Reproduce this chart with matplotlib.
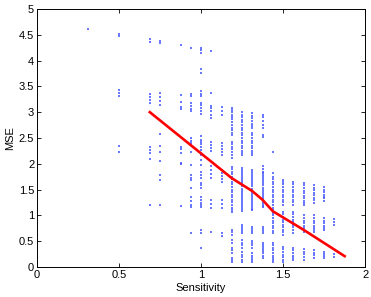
import numpy as np
import matplotlib
matplotlib.use("Agg")
import matplotlib.pyplot as plt

plt.rcParams['font.family'] = ['Liberation Sans', 'DejaVu Sans']

# sensitivity levels (columns of the scatter)
sens_levels = [0.3125, 0.5, 0.6875, 0.75, 0.875, 0.9375, 1.0, 1.0625, 1.125,
               1.1875, 1.25, 1.3125, 1.375, 1.4375, 1.5, 1.5625, 1.625,
               1.6875, 1.75, 1.8125]

# MSE values
mse_0312 = [4.61]
mse_0500 = [4.52, 4.48, 3.42, 3.37, 3.31, 2.35, 2.23]
mse_0688 = [4.41, 4.36, 3.35, 3.29, 3.23, 3.17, 2.33, 2.27, 2.2, 2.09, 1.2]
mse_0750 = [4.37, 4.34, 3.37, 3.3, 3.22, 3.14, 2.57, 2.35, 2.23, 2.05, 1.78,
            1.69, 1.2]
mse_0875 = [4.3, 3.33, 3.2, 3.1, 3.06, 2.32, 2.28, 2.2, 2.02, 1.99, 1.18]
mse_0938 = [4.25, 3.35, 3.31, 3.18, 3.12, 3.07, 3.02, 2.5, 2.45, 2.4, 2.37,
            2.23, 1.98, 1.78, 1.73, 1.68, 1.54, 1.36, 1.27, 1.2, 1.17, 0.65]
mse_1000 = [4.24, 4.2, 4.15, 3.83, 3.75, 3.41, 3.36, 3.31, 3.18, 3.13, 3.08,
            3.03, 2.97, 2.53, 2.47, 2.42, 2.38, 2.33, 2.27, 2.17, 2.07, 1.98,
            1.85, 1.78, 1.72, 1.63, 1.58, 1.53, 1.36, 1.3, 1.24, 1.2, 1.17,
            0.72, 0.66, 0.36]
mse_1062 = [4.19, 3.37, 3.12, 3.08, 3.02, 2.95, 2.89, 2.43, 2.36, 2.3, 2.25,
            1.95, 1.88, 1.8, 1.72, 1.3, 1.22, 1.15, 0.68]
mse_1125 = [3.1, 3.02, 2.95, 2.4, 2.34, 2.28, 2.22, 2.17, 1.88, 1.82, 1.76,
            1.7, 1.65, 1.3, 1.22, 1.14, 0.66, 0.6]
mse_1188 = [3.08, 3.04, 3.0, 2.95, 2.9, 2.86, 2.8, 2.75, 2.7, 2.65, 2.6, 2.56,
            2.43, 2.38, 2.33, 2.28, 2.22, 2.17, 2.11,
            1.94, 1.9, 1.85, 1.8, 1.75, 1.7, 1.65, 1.6, 1.55, 1.5, 1.45, 1.4,
            1.35, 1.3, 1.25, 1.2, 1.15, 1.1, 1.07,
            0.72, 0.67, 0.62, 0.52, 0.47, 0.37, 0.32, 0.27, 0.17, 0.13, 0.1]
mse_1250 = [3.0, 2.95, 2.9, 2.85, 2.8, 2.75, 2.7, 2.65, 2.6, 2.55, 2.5, 2.45,
            2.4, 2.35, 2.3, 2.25, 2.2, 2.17,
            1.92, 1.88, 1.84, 1.8, 1.76, 1.72, 1.68, 1.64, 1.6, 1.56, 1.52,
            1.48, 1.44, 1.4, 1.36, 1.32, 1.28, 1.24, 1.2, 1.16, 1.12, 1.08,
            0.81, 0.77, 0.73, 0.69, 0.66, 0.52, 0.47, 0.42, 0.37,
            0.29, 0.24, 0.19, 0.14, 0.1]
mse_1312 = [2.98, 2.93, 2.88, 2.83, 2.78, 2.73, 2.69, 2.6, 2.55, 2.5, 2.45,
            2.4, 2.35, 2.3, 2.25, 2.2, 2.17,
            1.88, 1.84, 1.8, 1.76, 1.72, 1.68, 1.64, 1.6, 1.56, 1.52, 1.48,
            1.44, 1.4, 1.36, 1.32, 1.28, 1.24, 1.2, 1.16, 1.12, 1.1,
            0.78, 0.74, 0.7, 0.66, 0.5, 0.46, 0.42, 0.37,
            0.27, 0.22, 0.17, 0.13, 0.1]
mse_1375 = [2.95, 2.9, 2.83, 2.76, 2.69, 2.56, 2.52,
            1.95, 1.9, 1.85, 1.82, 1.78, 1.74, 1.7, 1.66, 1.62, 1.58, 1.54,
            1.5, 1.46, 1.42, 1.38, 1.34, 1.3, 1.26, 1.22, 1.18, 1.16,
            0.78, 0.74, 0.7, 0.66, 0.47, 0.43, 0.39, 0.35, 0.31, 0.27, 0.22,
            0.17]
mse_1438 = [2.22, 1.83, 1.75, 1.7, 1.65, 1.6, 1.55, 1.5, 1.45, 1.4, 1.35,
            1.3, 1.25, 1.2, 1.15, 1.1, 1.05, 1.0, 0.95, 0.9, 0.85, 0.8, 0.75,
            0.7, 0.66, 0.47, 0.42, 0.37, 0.32, 0.27, 0.22, 0.17, 0.13, 0.1]
mse_1500 = [1.69, 1.65, 1.6, 1.55, 1.5, 1.45, 1.4, 1.35, 1.3, 1.25, 1.2,
            1.07, 1.02, 0.97, 0.92, 0.87, 0.82, 0.77, 0.72, 0.67, 0.62,
            0.39, 0.34, 0.29, 0.24, 0.19, 0.14, 0.1]
mse_1562 = [1.65, 1.6, 1.55, 1.5, 1.45, 1.4, 1.35, 1.3, 1.25, 1.2,
            1.07, 1.02, 0.97, 0.92, 0.87, 0.82, 0.77, 0.72, 0.66,
            0.37, 0.32, 0.27, 0.22, 0.18, 0.14]
mse_1625 = [1.63, 1.58, 1.53, 1.48, 1.43, 1.38, 1.33, 1.28, 1.24, 1.2,
            1.0, 0.95, 0.9, 0.85, 0.8, 0.75, 0.71, 0.68,
            0.35, 0.3, 0.25, 0.2, 0.14]
mse_1688 = [1.59, 1.54, 1.49, 1.44, 1.39, 1.34, 1.29, 1.24,
            1.0, 0.95, 0.9, 0.85, 0.8, 0.75, 0.71, 0.68,
            0.33, 0.28, 0.23, 0.17]
mse_1750 = [1.55, 1.5, 1.46, 1.4, 1.36, 1.33, 1.28,
            0.95, 0.9, 0.85, 0.8, 0.76, 0.72, 0.29, 0.25, 0.21, 0.17]
mse_1812 = [0.93, 0.87, 0.81, 0.25, 0.2]

# red trend line
trend_x = [0.6875, 1.0, 1.1875, 1.3125, 1.375, 1.4375, 1.5, 1.625, 1.875]
trend_y = [3.0, 2.2, 1.72, 1.47, 1.3, 1.08, 0.96, 0.72, 0.21]

columns = [mse_0312, mse_0500, mse_0688, mse_0750, mse_0875, mse_0938,
           mse_1000, mse_1062, mse_1125, mse_1188, mse_1250, mse_1312,
           mse_1375, mse_1438, mse_1500, mse_1562, mse_1625, mse_1688,
           mse_1750, mse_1812]

xs = np.concatenate([[s] * len(c) for s, c in zip(sens_levels, columns)])
ys = np.concatenate(columns)

fig = plt.figure(figsize=(3.71, 2.97), dpi=100)
ax = fig.add_axes([0.0997, 0.101, 0.8845, 0.869])

ax.scatter(xs, ys, s=2.5, color='#3a4cff', marker='s', linewidths=0,
           alpha=0.75)
ax.plot(trend_x, trend_y, color='red', lw=1.9)

ax.set_xlim(0, 2)
ax.set_ylim(0, 5)
ax.set_xticks([0, 0.5, 1, 1.5, 2])
ax.set_xticklabels(['0', '0.5', '1', '1.5', '2'])
ax.set_yticks(np.arange(0, 5.01, 0.5))
ax.set_yticklabels(['0', '0.5', '1', '1.5', '2', '2.5', '3', '3.5', '4',
                    '4.5', '5'])
ax.tick_params(direction='in', top=True, right=True, length=3, width=0.6,
               labelsize=8, pad=2)
for sp in ax.spines.values():
    sp.set_linewidth(0.7)
ax.set_xlabel('Sensitivity', fontsize=8, labelpad=2)
ax.set_ylabel('MSE', fontsize=8, labelpad=3)

fig.savefig('out.png', dpi=100)
